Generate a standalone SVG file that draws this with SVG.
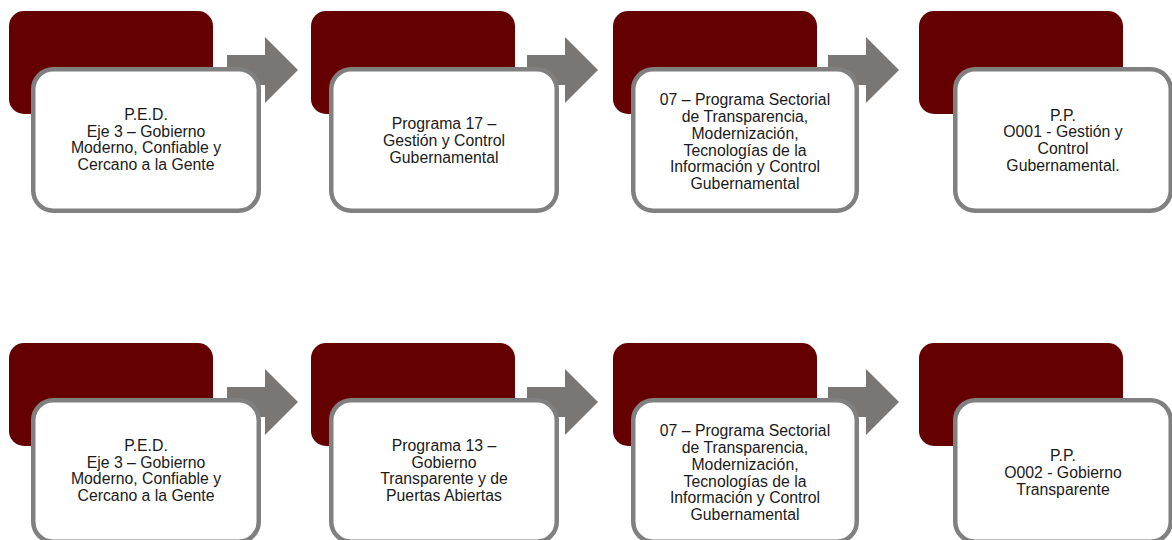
<svg xmlns="http://www.w3.org/2000/svg" width="1172" height="540" viewBox="0 0 1172 540">
<style>
.back{fill:#650000;}
.box{fill:#ffffff;stroke:#808080;stroke-width:4.5;}
.arr{fill:#7a7674;}
text{font-family:"Liberation Sans",Arial,sans-serif;font-size:15.8px;fill:#1a1a1a;text-anchor:middle;}
</style>
<defs>
<path id="arrow" d="M0,18 H38 V0 L71,33 L38,66 V48 H0 Z"/>
</defs>
<rect width="1172" height="540" fill="#ffffff"/>
<g id="backs">
<rect class="back" x="9" y="11" width="204" height="103" rx="15"/>
<rect class="back" x="311" y="11" width="204" height="103" rx="15"/>
<rect class="back" x="613" y="11" width="204" height="103" rx="15"/>
<rect class="back" x="919" y="11" width="204" height="103" rx="15"/>
<rect class="back" x="9" y="343" width="204" height="103" rx="15"/>
<rect class="back" x="311" y="343" width="204" height="103" rx="15"/>
<rect class="back" x="613" y="343" width="204" height="103" rx="15"/>
<rect class="back" x="919" y="343" width="204" height="103" rx="15"/>
</g>
<g id="connectors">
<use href="#arrow" class="arr" x="227" y="37"/>
<use href="#arrow" class="arr" x="527" y="37"/>
<use href="#arrow" class="arr" x="828" y="37"/>
<use href="#arrow" class="arr" x="227" y="369"/>
<use href="#arrow" class="arr" x="527" y="369"/>
<use href="#arrow" class="arr" x="828" y="369"/>
</g>
<g id="n1">
<rect class="box" x="33.25" y="69.25" width="225.5" height="141.5" rx="20"/>
<text x="146" y="120">P.E.D.</text>
<text x="146" y="136.7">Eje 3 – Gobierno</text>
<text x="146" y="153.4">Moderno, Confiable y</text>
<text x="146" y="170.1">Cercano a la Gente</text>
</g>
<g id="n2">
<rect class="box" x="331.25" y="69.25" width="225.5" height="141.5" rx="20"/>
<text x="444" y="129.3">Programa 17 –</text>
<text x="444" y="146">Gestión y Control</text>
<text x="444" y="162.7">Gubernamental</text>
</g>
<g id="n3">
<rect class="box" x="633.25" y="69.25" width="223.5" height="141.5" rx="20"/>
<text x="745" y="105.2">07 – Programa Sectorial</text>
<text x="745" y="122">de Transparencia,</text>
<text x="745" y="138.7">Modernización,</text>
<text x="745" y="155.5">Tecnologías de la</text>
<text x="745" y="172.2">Información y Control</text>
<text x="745" y="189">Gubernamental</text>
</g>
<g id="n4">
<rect class="box" x="955.25" y="69.25" width="215.5" height="141.5" rx="20"/>
<text x="1063" y="120.5">P.P.</text>
<text x="1063" y="137.2">O001 - Gestión y</text>
<text x="1063" y="153.9">Control</text>
<text x="1063" y="170.6">Gubernamental.</text>
</g>
<g id="n5">
<rect class="box" x="33.25" y="400.25" width="225.5" height="141.5" rx="20"/>
<text x="146" y="451">P.E.D.</text>
<text x="146" y="467.7">Eje 3 – Gobierno</text>
<text x="146" y="484.4">Moderno, Confiable y</text>
<text x="146" y="501.1">Cercano a la Gente</text>
</g>
<g id="n6">
<rect class="box" x="331.25" y="400.25" width="225.5" height="141.5" rx="20"/>
<text x="444" y="451">Programa 13 –</text>
<text x="444" y="467.7">Gobierno</text>
<text x="444" y="484.4">Transparente y de</text>
<text x="444" y="501.1">Puertas Abiertas</text>
</g>
<g id="n7">
<rect class="box" x="633.25" y="400.25" width="223.5" height="141.5" rx="20"/>
<text x="745" y="436.2">07 – Programa Sectorial</text>
<text x="745" y="453">de Transparencia,</text>
<text x="745" y="469.7">Modernización,</text>
<text x="745" y="486.5">Tecnologías de la</text>
<text x="745" y="503.2">Información y Control</text>
<text x="745" y="520">Gubernamental</text>
</g>
<g id="n8">
<rect class="box" x="955.25" y="400.25" width="215.5" height="141.5" rx="20"/>
<text x="1063" y="460.5">P.P.</text>
<text x="1063" y="477.8">O002 - Gobierno</text>
<text x="1063" y="495.1">Transparente</text>
</g>
</svg>
